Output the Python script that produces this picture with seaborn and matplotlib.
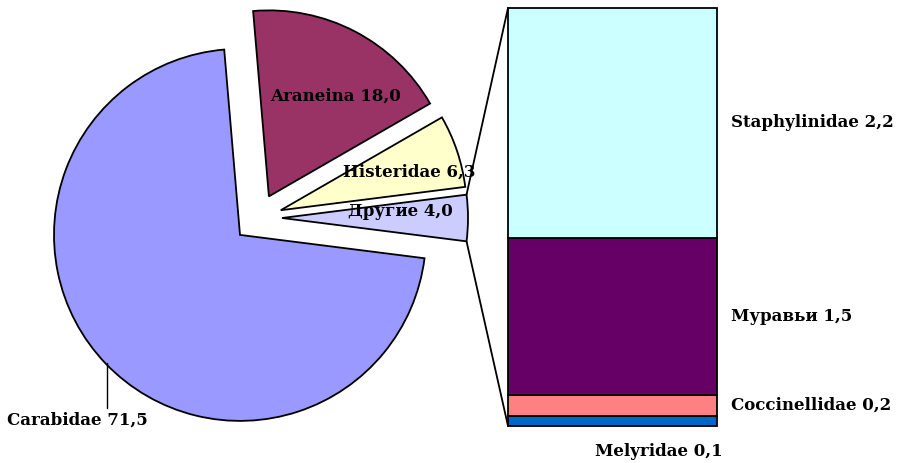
import numpy as np
import matplotlib.pyplot as plt
import matplotlib.transforms as mtransforms
import seaborn as sns
from matplotlib.patches import ConnectionPatch

# pie slices, counter-clockwise starting from "Другие"
pie_names = ["Другие", "Histeridae", "Araneina", "Carabidae"]
pie_values = [4.0, 6.3, 18.0, 71.5]
pie_colors = ["#CCCCFF", "#FFFFCC", "#993366", "#9999FF"]

# breakdown of "Другие", bottom to top
bar_names = ["Melyridae", "Coccinellidae", "Муравьи", "Staphylinidae"]
bar_values = [0.1, 0.2, 1.5, 2.2]
bar_colors = ["#0066CC", "#FF8080", "#660066", "#CCFFFF"]


def fmt(name, v):
    return f"{name} {v:.1f}".replace(".", ",")


sns.set_theme(style="white")
plt.rcParams["font.family"] = ["DejaVu Serif"]
plt.rcParams["text.color"] = "black"
FS = 12

W, H = 898, 463
fig = plt.figure(figsize=(W / 100, H / 100), dpi=100)

# pie (axes in pixel units)
ax1 = fig.add_axes([0, 0, 1, 1])
start = -pie_values[0] / sum(pie_values) * 360 / 2
wedges, _ = ax1.pie(pie_values, colors=pie_colors, startangle=start,
                    radius=186, center=(257.6, 245), explode=[24.4] * 4,
                    wedgeprops=dict(edgecolor="black", linewidth=1.3))
ax1.set_xlim(0, W)
ax1.set_ylim(0, H)
ax1.set_aspect("equal")
ax1.axis("off")

# pie labels
pie_label_pos = {"Другие": (400, 211), "Histeridae": (409, 172),
                 "Araneina": (336, 96), "Carabidae": (77, 420)}
for name, v in zip(pie_names, pie_values):
    px, py = pie_label_pos[name]
    ax1.text(px, H - py, fmt(name, v), ha="center", va="center",
             fontsize=FS, fontweight="bold", color="black")
ax1.plot([107, 107], [H - 363, H - 408], color="black", linewidth=1)

# stacked bar
ax2 = fig.add_axes([508 / W, (H - 426) / H, 209 / W, 418 / H])
trans = mtransforms.blended_transform_factory(ax2.transAxes, ax2.transData)
bottom = 0
for name, v, c in zip(bar_names, bar_values, bar_colors):
    ax2.bar(0, v, width=1, bottom=bottom, color=c, edgecolor="black",
            linewidth=1.3, clip_on=False)
    if name == "Melyridae":
        ax2.text(0.72, -0.06, fmt(name, v), transform=ax2.transAxes,
                 ha="center", va="center", fontsize=FS, fontweight="bold",
                 color="black")
    else:
        ax2.text(1.067, bottom + v / 2, fmt(name, v), transform=trans,
                 ha="left", va="center", fontsize=FS, fontweight="bold",
                 color="black")
    bottom += v
ax2.set_xlim(-0.5, 0.5)
ax2.set_ylim(0, sum(bar_values))
ax2.axis("off")

# connector lines from the "Другие" slice to the bar
w = wedges[0]
cx, cy = w.center
for ang, yb in [(w.theta2, sum(bar_values)), (w.theta1, 0)]:
    x = cx + w.r * np.cos(np.radians(ang))
    y = cy + w.r * np.sin(np.radians(ang))
    con = ConnectionPatch(xyA=(-0.5, yb), coordsA=ax2.transData,
                          xyB=(x, y), coordsB=ax1.transData,
                          color="black", linewidth=1.3)
    fig.add_artist(con)

fig.savefig("out.png", dpi=100)
